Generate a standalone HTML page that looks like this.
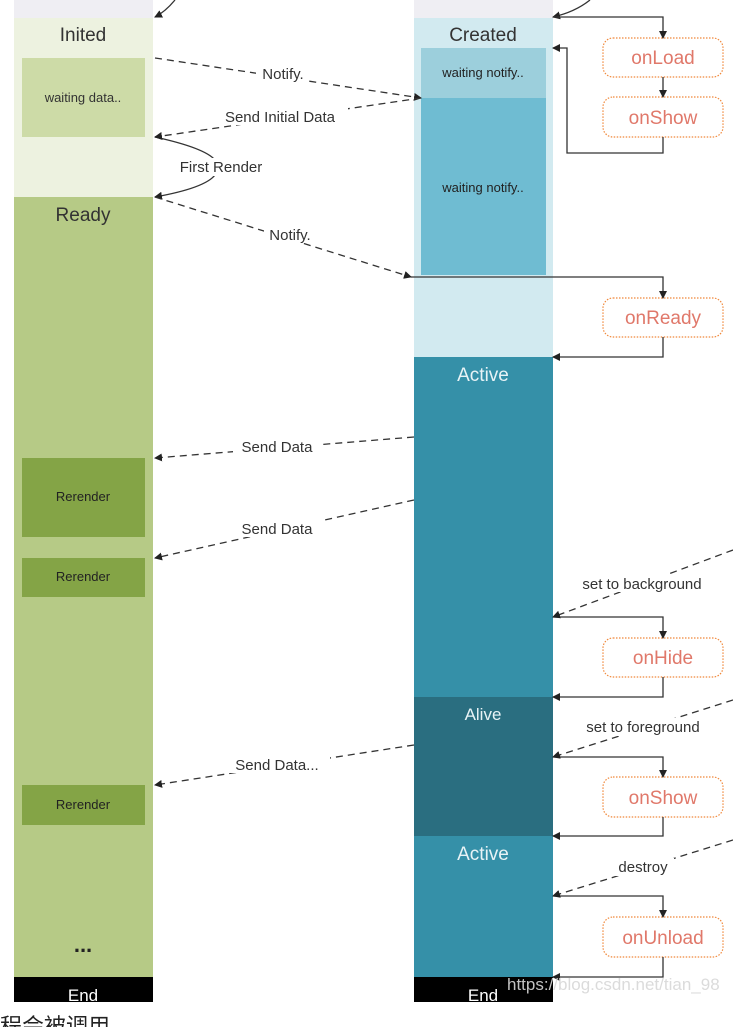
<!DOCTYPE html>
<html><head><meta charset="utf-8"><style>
html,body{margin:0;padding:0;background:#fff;width:733px;height:1027px;overflow:hidden}
svg{display:block}
text{font-family:"Liberation Sans","Noto Sans CJK SC",sans-serif}
</style></head><body>
<svg width="733" height="1027" viewBox="0 0 733 1027" xmlns="http://www.w3.org/2000/svg">
<defs>
<marker id="a" markerWidth="8" markerHeight="8" refX="7" refY="4" orient="auto" markerUnits="userSpaceOnUse"><path d="M0,0 L8,4 L0,8 z" fill="#222"/></marker>
</defs>
<!-- left column -->
<rect x="14" y="0" width="139" height="18" fill="#efeef3"/>
<rect x="14" y="18" width="139" height="179" fill="#edf2e0"/>
<rect x="22" y="58" width="123" height="79" fill="#cddba7"/>
<rect x="14" y="197" width="139" height="780" fill="#b6ca86"/>
<rect x="22" y="458" width="123" height="79" fill="#84a446"/>
<rect x="22" y="558" width="123" height="39" fill="#84a446"/>
<rect x="22" y="785" width="123" height="40" fill="#84a446"/>
<rect x="14" y="977" width="139" height="25" fill="#000"/>
<text x="83" y="41" font-size="19" text-anchor="middle" fill="#333">Inited</text>
<text x="83" y="102" font-size="13" text-anchor="middle" fill="#333">waiting data..</text>
<text x="83" y="221" font-size="19" text-anchor="middle" fill="#333">Ready</text>
<text x="83" y="501" font-size="13" text-anchor="middle" fill="#222">Rerender</text>
<text x="83" y="581" font-size="13" text-anchor="middle" fill="#222">Rerender</text>
<text x="83" y="809" font-size="13" text-anchor="middle" fill="#222">Rerender</text>
<text x="83" y="952" font-size="22" text-anchor="middle" fill="#222" font-weight="bold">...</text>
<text x="83" y="1001" font-size="17" text-anchor="middle" fill="#fff">End</text>
<!-- right column -->
<rect x="414" y="0" width="139" height="18" fill="#efeef3"/>
<rect x="414" y="18" width="139" height="339" fill="#d2eaf0"/>
<rect x="421" y="48" width="125" height="50" fill="#9ccfdc"/>
<rect x="421" y="98" width="125" height="177" fill="#6fbcd2"/>
<rect x="414" y="357" width="139" height="340" fill="#3590a8"/>
<rect x="414" y="697" width="139" height="139" fill="#2a6e80"/>
<rect x="414" y="836" width="139" height="141" fill="#3590a8"/>
<rect x="414" y="977" width="139" height="25" fill="#000"/>
<text x="483" y="41" font-size="19" text-anchor="middle" fill="#333">Created</text>
<text x="483" y="77" font-size="13" text-anchor="middle" fill="#222">waiting notify..</text>
<text x="483" y="192" font-size="13" text-anchor="middle" fill="#222">waiting notify..</text>
<text x="483" y="381" font-size="19" text-anchor="middle" fill="#e8f3f6">Active</text>
<text x="483" y="720" font-size="17" text-anchor="middle" fill="#e8f3f6">Alive</text>
<text x="483" y="860" font-size="19" text-anchor="middle" fill="#e8f3f6">Active</text>
<text x="483" y="1001" font-size="17" text-anchor="middle" fill="#fff">End</text>
<!-- callouts -->
<g fill="#fff" stroke="#f0883a" stroke-width="1.2" stroke-dasharray="1.5,1.5">
<rect x="603" y="38" width="120" height="39" rx="10"/>
<rect x="603" y="97" width="120" height="40" rx="10"/>
<rect x="603" y="298" width="120" height="39" rx="10"/>
<rect x="603" y="638" width="120" height="39" rx="10"/>
<rect x="603" y="777" width="120" height="40" rx="10"/>
<rect x="603" y="917" width="120" height="40" rx="10"/>
</g>
<g font-size="19" text-anchor="middle" fill="#e0786a">
<text x="663" y="64">onLoad</text>
<text x="663" y="124">onShow</text>
<text x="663" y="324">onReady</text>
<text x="663" y="664">onHide</text>
<text x="663" y="804">onShow</text>
<text x="663" y="944">onUnload</text>
</g>
<!-- solid connectors -->
<g fill="none" stroke="#333" stroke-width="1.3">
<path d="M175,0 Q165,12 155,17" marker-end="url(#a)"/>
<path d="M590,0 Q575,12 553,17" marker-end="url(#a)"/>
<path d="M553,17 H663 V38" marker-end="url(#a)"/>
<path d="M663,77 V97" marker-end="url(#a)"/>
<path d="M663,137 V153 H567 V48 H553" marker-end="url(#a)"/>
<path d="M155,137 Q205,148 215,160"/>
<path d="M215,175 Q205,188 155,197" marker-end="url(#a)"/>
<path d="M411,277 H663 V298" marker-end="url(#a)"/>
<path d="M663,337 V357 H553" marker-end="url(#a)"/>
<path d="M553,617 H663 V638" marker-end="url(#a)"/>
<path d="M663,677 V697 H553" marker-end="url(#a)"/>
<path d="M553,757 H663 V777" marker-end="url(#a)"/>
<path d="M663,817 V836 H553" marker-end="url(#a)"/>
<path d="M553,896 H663 V917" marker-end="url(#a)"/>
<path d="M663,957 V977 H553" marker-end="url(#a)"/>
</g>
<!-- dashed connectors -->
<g fill="none" stroke="#333" stroke-width="1.3" stroke-dasharray="7,5">
<path d="M155,58 L421,98" marker-end="url(#a)"/>
<path d="M421,98 L155,137" marker-end="url(#a)"/>
<path d="M155,197 L411,277" marker-end="url(#a)"/>
<path d="M414,437 L155,458" marker-end="url(#a)"/>
<path d="M414,500 L155,558" marker-end="url(#a)"/>
<path d="M414,745 L155,785" marker-end="url(#a)"/>
<path d="M733,550 L553,617" marker-end="url(#a)"/>
<path d="M733,700 L553,757" marker-end="url(#a)"/>
<path d="M733,840 L553,896" marker-end="url(#a)"/>
</g>
<!-- labels with white bg -->
<g font-size="15" fill="#333" text-anchor="middle">
<rect x="256" y="64" width="52" height="18" fill="#fff"/><text x="283" y="79">Notify.</text>
<rect x="212" y="107" width="136" height="18" fill="#fff"/><text x="280" y="122">Send Initial Data</text>
<rect x="172" y="158" width="98" height="18" fill="#fff"/><text x="221" y="172">First Render</text>
<rect x="264" y="225" width="52" height="18" fill="#fff"/><text x="290" y="240">Notify.</text>
<rect x="233" y="438" width="88" height="18" fill="#fff"/><text x="277" y="452">Send Data</text>
<rect x="233" y="519" width="88" height="18" fill="#fff"/><text x="277" y="534">Send Data</text>
<rect x="226" y="755" width="104" height="18" fill="#fff"/><text x="277" y="770">Send Data...</text>
<rect x="565" y="574" width="154" height="18" fill="#fff"/><text x="642" y="589">set to background</text>
<rect x="571" y="718" width="144" height="18" fill="#fff"/><text x="643" y="732">set to foreground</text>
<rect x="612" y="858" width="62" height="18" fill="#fff"/><text x="643" y="872">destroy</text>
</g>
<text x="507" y="990" font-size="17" fill="#d8d8d8" opacity="0.9">https://blog.csdn.net/tian_98</text>
<text x="0" y="1034" font-size="22" fill="#222">程会被调用</text>
</svg>
</body></html>
